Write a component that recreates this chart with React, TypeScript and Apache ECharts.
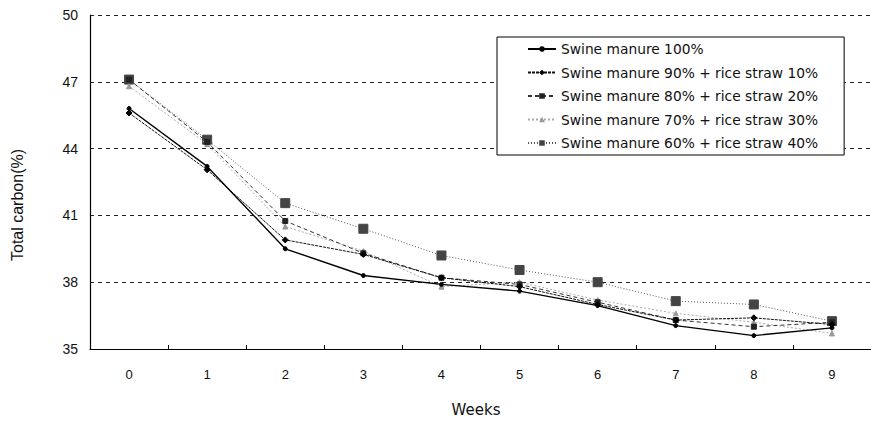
import React, { useEffect, useRef } from "react";
import * as echarts from "echarts";

const weeks = ["0", "1", "2", "3", "4", "5", "6", "7", "8", "9"];
const yTicks = [35, 38, 41, 44, 47, 50];
const seriesNames = [
  "Swine manure 100%",
  "Swine manure 90% + rice straw 10%",
  "Swine manure 80% + rice straw 20%",
  "Swine manure 70% + rice straw 30%",
  "Swine manure 60% + rice straw 40%",
];
const s100 = [45.8, 43.2, 39.5, 38.3, 37.9, 37.6, 36.95, 36.05, 35.6, 35.95];
const s90 = [45.6, 43.05, 39.9, 39.25, 38.2, 37.8, 37.0, 36.3, 36.4, 36.1];
const s80 = [47.1, 44.3, 40.75, 39.3, 38.2, 37.9, 37.1, 36.3, 36.0, 36.2];
const s70 = [46.8, 44.2, 40.5, 39.4, 37.8, 38.0, 37.2, 36.6, 36.2, 35.7];
const s60 = [47.1, 44.4, 41.55, 40.4, 39.2, 38.55, 38.0, 37.15, 37.0, 36.25];

const FONT = "'Liberation Sans', Arial, sans-serif";
const LFONT = "'DejaVu Sans', sans-serif";

export default function App() {
  const ref = useRef<HTMLDivElement>(null);
  useEffect(() => {
    if (!ref.current) return;
    const chart = echarts.init(ref.current, undefined, { renderer: "svg" });
    const styles = [
      { color: "#000", width: 1.4, type: "solid" as any, symbol: "circle", size: 4, mcolor: "#000" },
      { color: "#111", width: 1, type: [3, 1] as any, symbol: "diamond", size: 6, mcolor: "#000" },
      { color: "#333", width: 1, type: [4, 3] as any, symbol: "rect", size: 5, mcolor: "#222" },
      { color: "#aaa", width: 1, type: [2, 2] as any, symbol: "triangle", size: 5, mcolor: "#999" },
      { color: "#555", width: 1, type: [1, 2] as any, symbol: "rect", size: 9, mcolor: "#444" },
    ];
    const data = [s100, s90, s80, s70, s60];
    chart.setOption({
      animation: false,
      backgroundColor: "#fff",
      grid: { left: 90, right: 0, top: 15, bottom: 75 },
      legend: {
        orient: "vertical",
        left: 497,
        top: 37,
        padding: [5, 26, 5, 30],
        itemGap: 9.5,
        itemWidth: 28,
        itemHeight: 7,
        borderColor: "#000",
        borderWidth: 1,
        borderRadius: 0,
        backgroundColor: "#fff",
        textStyle: { fontFamily: LFONT, fontSize: 13.8, lineHeight: 14, color: "#111" },
        data: seriesNames,
      },
      xAxis: {
        type: "category",
        data: weeks,
        boundaryGap: true,
        axisLine: { lineStyle: { color: "#000", width: 1 } },
        axisTick: { show: true, inside: true, length: 4, lineStyle: { color: "#000" } },
        axisLabel: { fontFamily: FONT, fontSize: 13, color: "#111", margin: 19 },
        splitLine: { show: false },
      },
      yAxis: {
        type: "value",
        min: 35,
        max: 50,
        interval: 3,
        axisLine: { show: true, lineStyle: { color: "#000", width: 1.2 } },
        axisTick: { show: false },
        axisLabel: { fontFamily: FONT, fontSize: 14, color: "#111", margin: 12 },
        splitLine: { show: true, lineStyle: { color: "#222", width: 1, type: [4, 4] } },
      },
      graphic: [
        {
          type: "text",
          x: 17,
          y: 205,
          rotation: Math.PI / 2,
          style: {
            text: "Total carbon(%)",
            fontFamily: FONT,
            fontSize: 16,
            fill: "#111",
            align: "center",
            verticalAlign: "middle",
          },
        },
        {
          type: "text",
          x: 476,
          y: 410,
          style: {
            text: "Weeks",
            fontFamily: LFONT,
            fontSize: 15,
            fill: "#111",
            align: "center",
            verticalAlign: "middle",
          },
        },
      ],
      series: seriesNames.map((n, i) => ({
        name: n,
        type: "line",
        data: data[i],
        symbol: styles[i].symbol,
        symbolSize: styles[i].size,
        showSymbol: true,
        lineStyle: { color: styles[i].color, width: styles[i].width, type: styles[i].type },
        itemStyle: { color: styles[i].mcolor, borderColor: styles[i].mcolor },
        z: 10 - i,
      })),
    });
    return () => chart.dispose();
  }, []);
  return (
    <div
      ref={ref}
      style={{ position: "absolute", left: 0, top: 0, width: 871, height: 424 }}
    />
  );
}
